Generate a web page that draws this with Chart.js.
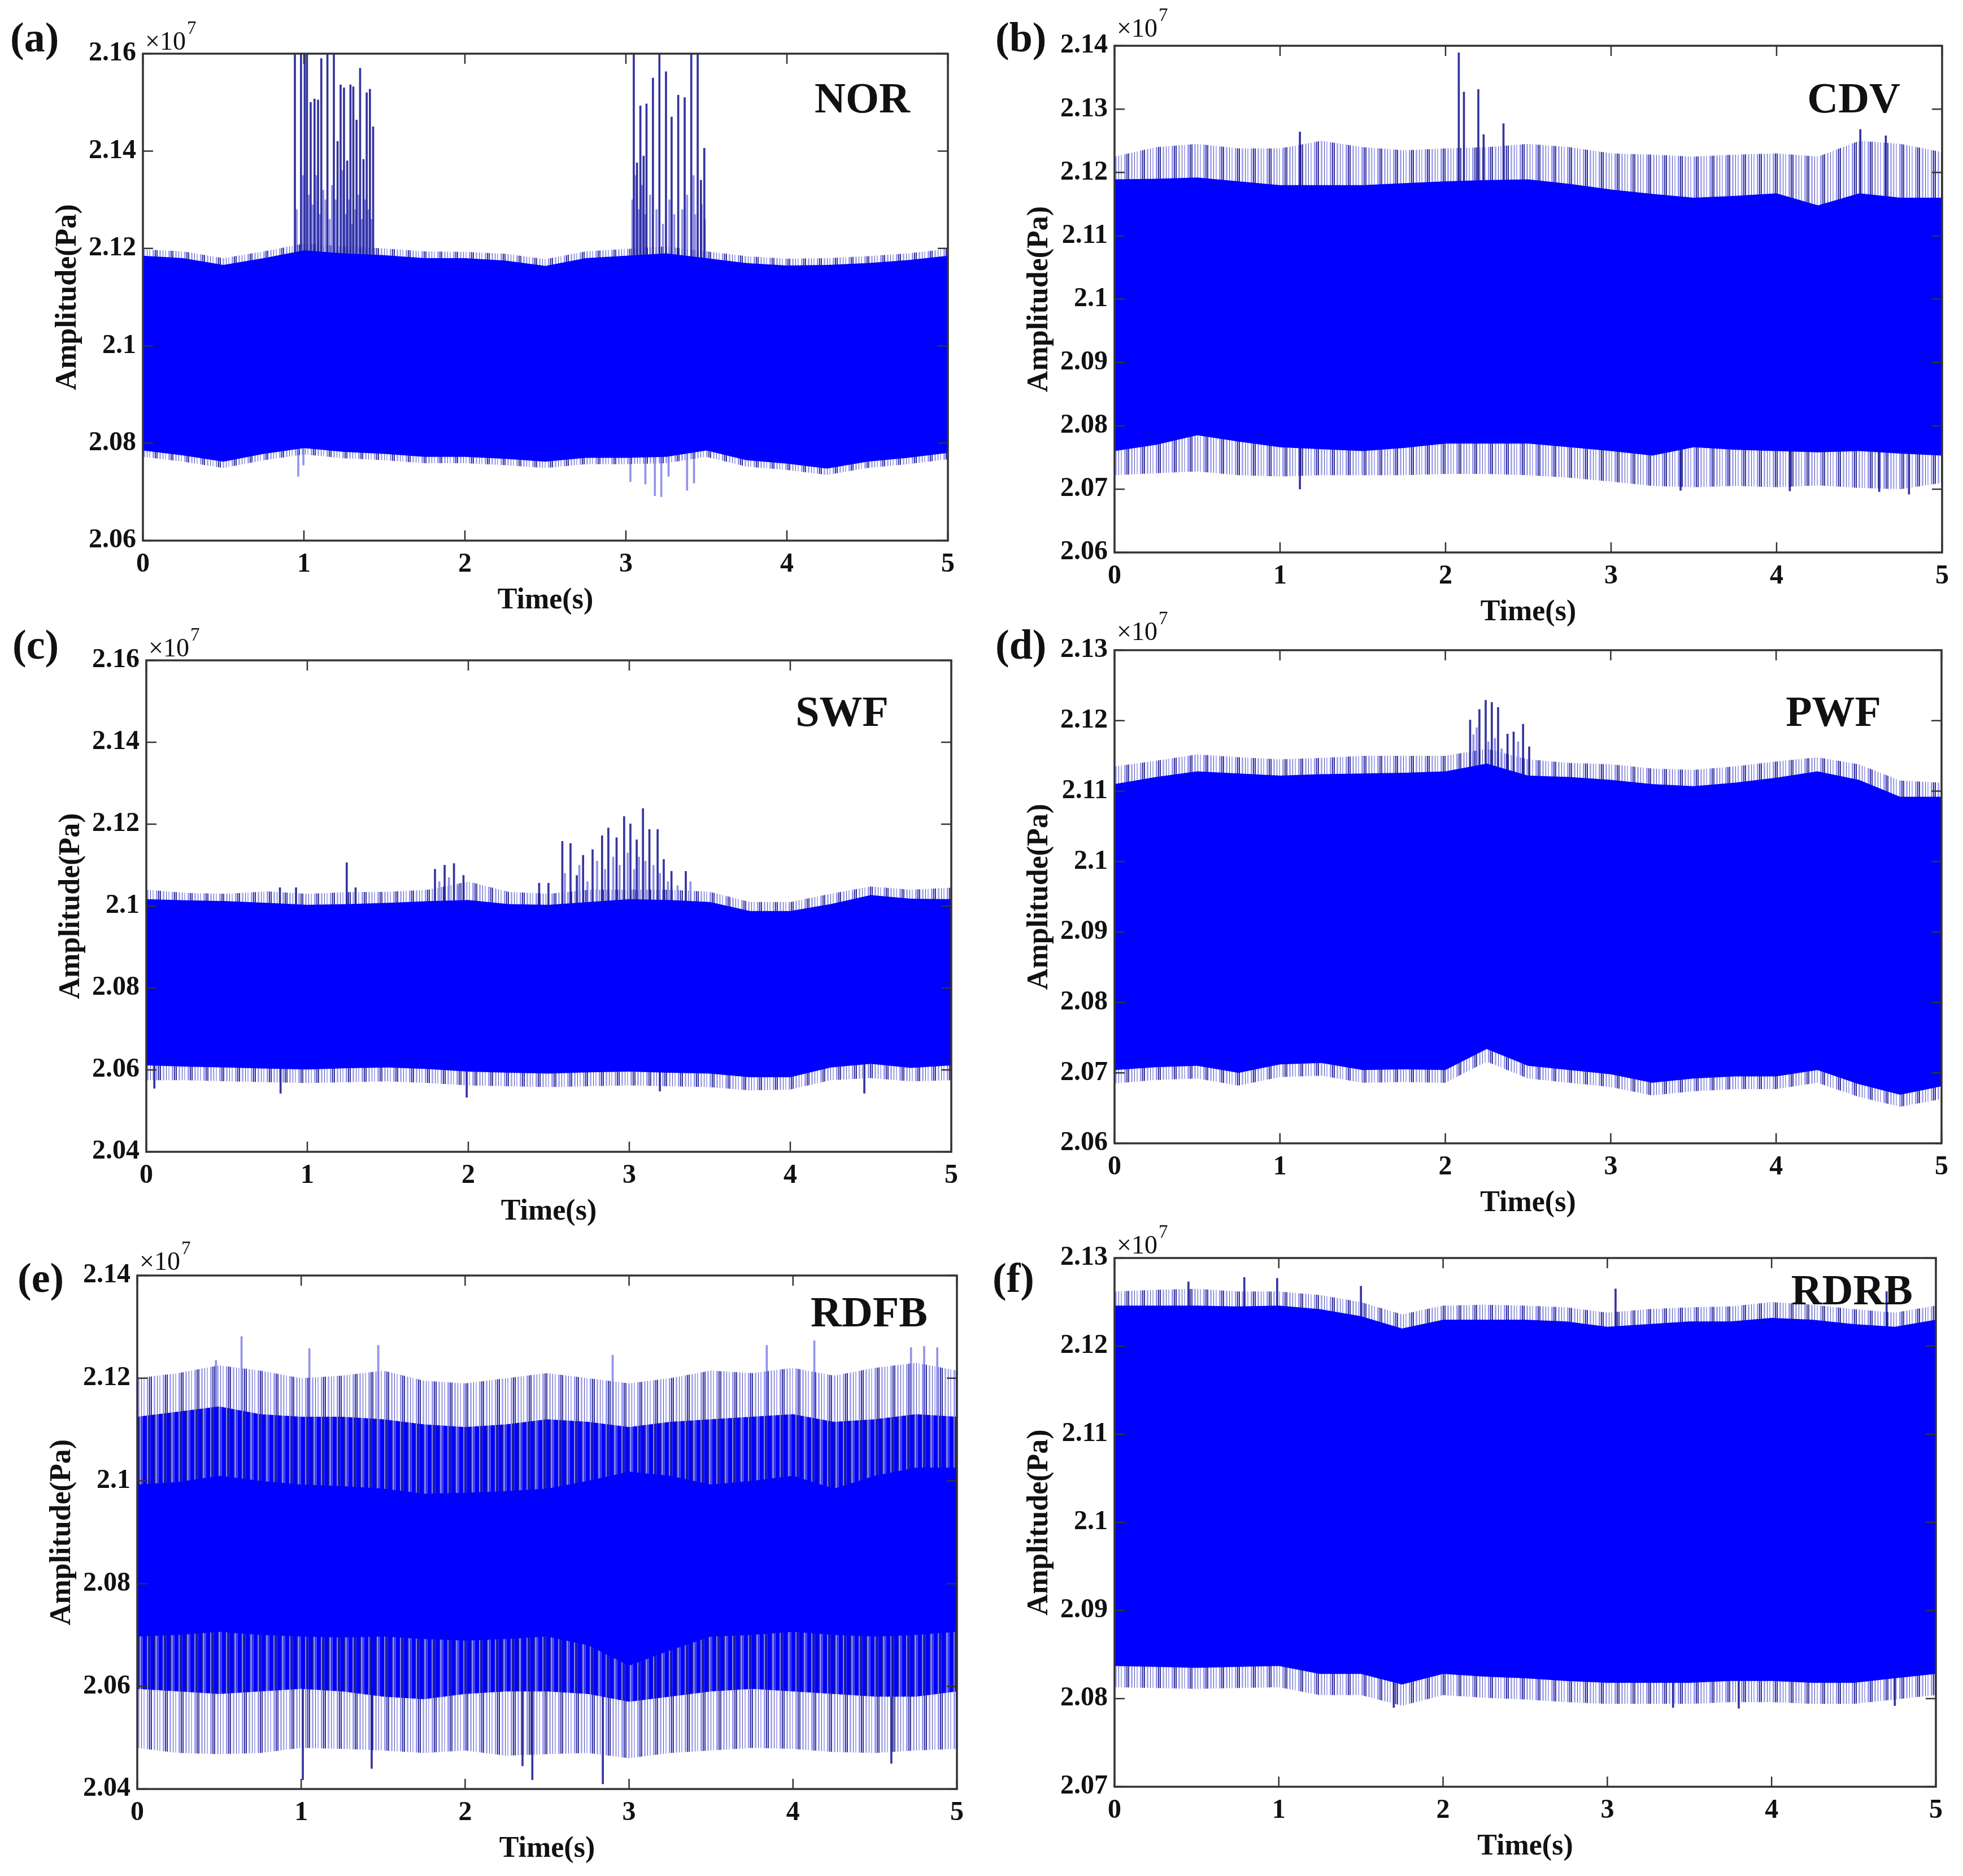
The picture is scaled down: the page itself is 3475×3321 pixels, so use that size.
<!DOCTYPE html>
<html lang="en">

<head>
    <meta charset="UTF-8" />
    <title>Pressure signals</title>
    <script src="https://cdn.jsdelivr.net/npm/chart.js@4.4.1/dist/chart.umd.min.js"></script>
    <style>
        body { margin: 0; background: #fff; }
        #page { position: relative; width: 3475px; height: 3321px; background: #fff;
                font-family: "Liberation Serif", "Times New Roman", serif; color: #111; }
        canvas { position: absolute; }
        .tag { position: absolute; font-weight: bold; font-size: 74px; line-height: 1; transform: translateY(-50%); }
        .name { position: absolute; font-weight: bold; font-size: 76px; line-height: 1; transform: translate(-100%, -50%); }
        .exp { position: absolute; font-size: 46px; line-height: 1; white-space: nowrap; }
        .exp .pow { font-size: 33px; position: relative; top: -28px; margin-left: 2px; }
    </style>
</head>

<body>
    <div id="page"></div>
    <script>
        // sample times for the envelopes (s)
        const tEnv = [0, 0.25, 0.5, 0.75, 1, 1.25, 1.5, 1.75, 2, 2.25, 2.5, 2.75, 3, 3.25, 3.5, 3.75, 4, 4.25, 4.5, 4.75, 5]
        const xTicks = [0, 1, 2, 3, 4, 5]

        // (a) NOR, amplitude x1e7 Pa
        const norTicks = [2.06, 2.08, 2.10, 2.12, 2.14, 2.16]
        const norCoreHi = [2.1185, 2.1180, 2.1166, 2.1180, 2.1196, 2.1190, 2.1186, 2.1180, 2.1180, 2.1175, 2.1164, 2.1180, 2.1185, 2.1190, 2.1180, 2.1170, 2.1165, 2.1166, 2.1170, 2.1176, 2.1185]
        const norEdgeHi = [2.1198, 2.1194, 2.1180, 2.1194, 2.1210, 2.1204, 2.1200, 2.1194, 2.1193, 2.1189, 2.1178, 2.1194, 2.1199, 2.1204, 2.1194, 2.1184, 2.1179, 2.1180, 2.1184, 2.1190, 2.1199]
        const norCoreLo = [2.0785, 2.0775, 2.0762, 2.0778, 2.0790, 2.0782, 2.0778, 2.0772, 2.0772, 2.0768, 2.0762, 2.0770, 2.0770, 2.0772, 2.0785, 2.0765, 2.0758, 2.0748, 2.0762, 2.0770, 2.0780]
        const norEdgeLo = [2.0772, 2.0762, 2.0749, 2.0765, 2.0777, 2.0769, 2.0765, 2.0759, 2.0759, 2.0755, 2.0749, 2.0757, 2.0757, 2.0759, 2.0772, 2.0752, 2.0745, 2.0735, 2.0749, 2.0757, 2.0767]
        const norUpT = [0.944, 0.982, 1.005, 1.019, 1.042, 1.066, 1.088, 1.108, 1.146, 1.186, 1.209, 1.228, 1.249, 1.269, 1.289, 1.307, 1.327, 1.349, 1.370, 1.390, 1.410, 1.430,
            3.049, 3.069, 3.090, 3.110, 3.128, 3.168, 3.208, 3.249, 3.284, 3.325, 3.365, 3.406, 3.446, 3.466, 3.487]
        const norUpPeak = [2.160, 2.160, 2.160, 2.160, 2.150, 2.1507, 2.1505, 2.159, 2.160, 2.160, 2.142, 2.1536, 2.153, 2.138, 2.1536, 2.1532, 2.1464, 2.157, 2.1383, 2.152, 2.1527, 2.145,
            2.160, 2.1376, 2.1493, 2.139, 2.1497, 2.155, 2.160, 2.1563, 2.147, 2.1515, 2.151, 2.160, 2.160, 2.134, 2.1406]
        const norLightT = [0.955, 0.995, 1.030, 1.055, 1.077, 1.098, 1.120, 1.135, 1.160, 1.175, 1.197, 1.240, 1.260, 1.280, 1.300, 1.320, 1.340, 1.360, 1.380, 1.400, 1.420,
            3.040, 3.060, 3.080, 3.100, 3.120, 3.150, 3.190, 3.230, 3.270, 3.300, 3.350, 3.380, 3.420, 3.430, 3.470, 3.490]
        const norLightPeak = [2.128, 2.135, 2.131, 2.129, 2.135, 2.127, 2.132, 2.130, 2.126, 2.133, 2.130, 2.136, 2.127, 2.130, 2.125, 2.128, 2.131, 2.126, 2.130, 2.128, 2.126,
            2.130, 2.135, 2.128, 2.133, 2.127, 2.131, 2.128, 2.125, 2.130, 2.127, 2.128, 2.131, 2.135, 2.127, 2.129, 2.126]
        const norDownT = [0.965, 0.997, 3.028, 3.121, 3.180, 3.220, 3.265, 3.380, 3.423]
        const norDownLow = [2.0732, 2.0755, 2.0721, 2.0716, 2.0692, 2.0690, 2.0732, 2.0703, 2.0718]

        // (b) CDV
        const cdvTicks = [2.06, 2.07, 2.08, 2.09, 2.10, 2.11, 2.12, 2.13, 2.14]
        const cdvCoreHi = [2.1189, 2.1190, 2.1192, 2.1186, 2.1180, 2.1180, 2.1180, 2.1183, 2.1186, 2.1188, 2.1189, 2.1182, 2.1173, 2.1166, 2.1160, 2.1163, 2.1167, 2.1148, 2.1167, 2.1160, 2.1160]
        const cdvEdgeHi = [2.1225, 2.1240, 2.1245, 2.1238, 2.1238, 2.1250, 2.1240, 2.1235, 2.1238, 2.1240, 2.1245, 2.1240, 2.1230, 2.1228, 2.1225, 2.1228, 2.1230, 2.1225, 2.1250, 2.1245, 2.1232]
        const cdvCoreLo = [2.0760, 2.0770, 2.0785, 2.0775, 2.0766, 2.0763, 2.0760, 2.0765, 2.0772, 2.0772, 2.0772, 2.0766, 2.0760, 2.0753, 2.0766, 2.0762, 2.0760, 2.0758, 2.0760, 2.0756, 2.0753]
        const cdvEdgeLo = [2.0722, 2.0725, 2.0728, 2.0722, 2.0720, 2.0722, 2.0722, 2.0722, 2.0724, 2.0724, 2.0722, 2.0718, 2.0712, 2.0705, 2.0703, 2.0705, 2.0703, 2.0706, 2.0702, 2.0700, 2.0710]
        const cdvUpT = [1.12, 2.08, 2.111, 2.198, 2.23, 2.35, 4.506, 4.66]
        const cdvUpPeak = [2.1264, 2.1389, 2.1327, 2.1331, 2.1260, 2.1277, 2.1268, 2.1258]
        const cdvDownT = [1.12, 3.42, 4.08, 4.62, 4.80]
        const cdvDownLow = [2.0700, 2.0698, 2.0697, 2.0696, 2.0692]

        // (c) SWF
        const swfTicks = [2.04, 2.06, 2.08, 2.10, 2.12, 2.14, 2.16]
        const swfCoreHi = [2.1017, 2.1014, 2.1012, 2.1008, 2.1003, 2.1005, 2.1008, 2.1012, 2.1015, 2.1005, 2.1003, 2.1010, 2.1017, 2.1015, 2.1010, 2.0988, 2.0988, 2.1005, 2.1027, 2.1018, 2.1017]
        const swfEdgeHi = [2.1040, 2.1032, 2.1030, 2.1036, 2.1030, 2.1034, 2.1035, 2.1040, 2.1060, 2.1035, 2.1030, 2.1040, 2.1040, 2.1040, 2.1035, 2.1010, 2.1010, 2.1030, 2.1048, 2.1040, 2.1045]
        const swfCoreLo = [2.0611, 2.0608, 2.0606, 2.0603, 2.0601, 2.0604, 2.0606, 2.0602, 2.0596, 2.0593, 2.0591, 2.0594, 2.0596, 2.0593, 2.0591, 2.0582, 2.0582, 2.0606, 2.0615, 2.0605, 2.0611]
        const swfEdgeLo = [2.0575, 2.0575, 2.0572, 2.0570, 2.0568, 2.0570, 2.0572, 2.0568, 2.0562, 2.0560, 2.0558, 2.0560, 2.0562, 2.0560, 2.0558, 2.0550, 2.0552, 2.0575, 2.0580, 2.0572, 2.0575]
        const swfUpT = [0.83, 0.93, 1.245, 1.30, 1.793, 1.853, 1.911, 1.97, 2.44, 2.498, 2.584, 2.635, 2.674, 2.713, 2.772, 2.831, 2.870, 2.921, 2.968, 3.007, 3.046, 3.085, 3.125, 3.176, 3.214, 3.262, 3.351]
        const swfUpPeak = [2.1045, 2.1045, 2.1106, 2.1045, 2.1090, 2.1100, 2.1104, 2.1075, 2.1056, 2.1056, 2.1158, 2.1153, 2.1075, 2.1124, 2.1138, 2.1172, 2.1191, 2.1167, 2.1219, 2.1201, 2.1162, 2.1238, 2.1187, 2.1187, 2.1114, 2.1085, 2.1085]
        const swfLightT = [1.82, 1.88, 1.94, 2.60, 2.69, 2.74, 2.80, 2.85, 2.90, 2.94, 2.99, 3.03, 3.06, 3.10, 3.15, 3.19, 3.24, 3.30, 3.38]
        const swfLightPeak = [2.106, 2.107, 2.105, 2.108, 2.110, 2.106, 2.111, 2.109, 2.112, 2.110, 2.113, 2.109, 2.112, 2.111, 2.110, 2.108, 2.106, 2.105, 2.106]
        const swfDownT = [0.05, 0.834, 1.99, 3.19, 4.46]
        const swfDownLow = [2.0555, 2.0543, 2.0533, 2.0548, 2.0543]

        // (d) PWF
        const pwfTicks = [2.06, 2.07, 2.08, 2.09, 2.10, 2.11, 2.12, 2.13]
        const pwfCoreHi = [2.1110, 2.1120, 2.1128, 2.1125, 2.1122, 2.1124, 2.1125, 2.1126, 2.1128, 2.1139, 2.1122, 2.1120, 2.1116, 2.1110, 2.1107, 2.1112, 2.1119, 2.1128, 2.1116, 2.1092, 2.1092]
        const pwfEdgeHi = [2.1135, 2.1143, 2.1152, 2.1148, 2.1145, 2.1147, 2.1150, 2.1150, 2.1150, 2.1160, 2.1145, 2.1140, 2.1138, 2.1132, 2.1130, 2.1135, 2.1142, 2.1148, 2.1138, 2.1115, 2.1112]
        const pwfCoreLo = [2.0704, 2.0708, 2.0710, 2.0700, 2.0712, 2.0714, 2.0704, 2.0705, 2.0704, 2.0734, 2.0710, 2.0704, 2.0698, 2.0686, 2.0692, 2.0695, 2.0695, 2.0704, 2.0684, 2.0669, 2.0681]
        const pwfEdgeLo = [2.0685, 2.0690, 2.0692, 2.0682, 2.0694, 2.0696, 2.0686, 2.0687, 2.0686, 2.0716, 2.0692, 2.0686, 2.0680, 2.0668, 2.0674, 2.0677, 2.0677, 2.0686, 2.0666, 2.0652, 2.0663]
        const pwfUpT = [2.150, 2.206, 2.244, 2.281, 2.319, 2.376, 2.413, 2.470, 2.507]
        const pwfUpPeak = [2.1201, 2.1216, 2.1229, 2.1226, 2.1219, 2.1181, 2.1184, 2.1195, 2.1163]
        const pwfLightT = [2.17, 2.19, 2.26, 2.30, 2.34, 2.44]
        const pwfLightPeak = [2.118, 2.119, 2.117, 2.1175, 2.116, 2.117]

        // (e) RDFB
        const rdfbTicks = [2.04, 2.06, 2.08, 2.10, 2.12, 2.14]
        const rdfbCoreHi = [2.0993, 2.0998, 2.1010, 2.1000, 2.0993, 2.0990, 2.0985, 2.0975, 2.0977, 2.0980, 2.0985, 2.1000, 2.1018, 2.1010, 2.0993, 2.1000, 2.1010, 2.0985, 2.1010, 2.1026, 2.1026]
        const rdfbMidHi = [2.1125, 2.1135, 2.1145, 2.1130, 2.1125, 2.1125, 2.1120, 2.1110, 2.1105, 2.1110, 2.1120, 2.1115, 2.1105, 2.1115, 2.1120, 2.1125, 2.1130, 2.1115, 2.1120, 2.1130, 2.1125]
        const rdfbEdgeHi = [2.1200, 2.1210, 2.1225, 2.1215, 2.1200, 2.1205, 2.1215, 2.1195, 2.1190, 2.1200, 2.1210, 2.1200, 2.1190, 2.1200, 2.1215, 2.1210, 2.1220, 2.1205, 2.1220, 2.1230, 2.1215]
        const rdfbCoreLo = [2.0697, 2.0700, 2.0706, 2.0700, 2.0697, 2.0695, 2.0697, 2.0692, 2.0689, 2.0692, 2.0697, 2.0680, 2.0640, 2.0670, 2.0697, 2.0700, 2.0706, 2.0700, 2.0697, 2.0700, 2.0706]
        const rdfbMidLo = [2.0595, 2.0590, 2.0585, 2.0590, 2.0595, 2.0590, 2.0580, 2.0575, 2.0585, 2.0590, 2.0590, 2.0585, 2.0570, 2.0580, 2.0590, 2.0595, 2.0590, 2.0585, 2.0580, 2.0580, 2.0590]
        const rdfbEdgeLo = [2.0480, 2.0470, 2.0468, 2.0470, 2.0480, 2.0478, 2.0475, 2.0470, 2.0475, 2.0465, 2.0468, 2.0470, 2.0460, 2.0470, 2.0475, 2.0480, 2.0478, 2.0472, 2.0470, 2.0475, 2.0478]
        const rdfbUpT = [0.48, 0.636, 1.05, 1.47, 2.90, 3.84, 4.13, 4.72, 4.80, 4.88]
        const rdfbUpPeak = [2.1235, 2.1281, 2.1258, 2.1264, 2.1245, 2.1264, 2.1273, 2.1260, 2.1262, 2.1260]
        const rdfbDownT = [1.01, 1.43, 2.35, 2.41, 2.84, 4.60]
        const rdfbDownLow = [2.0418, 2.0440, 2.0445, 2.0418, 2.0410, 2.0450]

        // (f) RDRB
        const rdrbTicks = [2.07, 2.08, 2.09, 2.10, 2.11, 2.12, 2.13]
        const rdrbCoreHi = [2.1246, 2.1246, 2.1246, 2.1245, 2.1246, 2.1242, 2.1234, 2.1220, 2.1230, 2.1230, 2.1230, 2.1228, 2.1222, 2.1225, 2.1228, 2.1228, 2.1232, 2.1230, 2.1225, 2.1222, 2.1230]
        const rdrbEdgeHi = [2.1262, 2.1264, 2.1265, 2.1262, 2.1262, 2.1258, 2.1250, 2.1236, 2.1246, 2.1247, 2.1246, 2.1244, 2.1238, 2.1242, 2.1244, 2.1245, 2.1250, 2.1247, 2.1242, 2.1238, 2.1246]
        const rdrbCoreLo = [2.0837, 2.0836, 2.0835, 2.0836, 2.0837, 2.0828, 2.0828, 2.0816, 2.0828, 2.0825, 2.0823, 2.0820, 2.0818, 2.0818, 2.0818, 2.0820, 2.0820, 2.0818, 2.0818, 2.0823, 2.0828]
        const rdrbEdgeLo = [2.0813, 2.0812, 2.0811, 2.0812, 2.0813, 2.0804, 2.0804, 2.0792, 2.0804, 2.0801, 2.0799, 2.0796, 2.0794, 2.0794, 2.0794, 2.0796, 2.0796, 2.0794, 2.0794, 2.0799, 2.0804]
        const rdrbUpT = [0.45, 0.79, 0.99, 1.50, 3.05, 4.70]
        const rdrbUpPeak = [2.1273, 2.1278, 2.1277, 2.1268, 2.1265, 2.1262]
        const rdrbDownT = [1.70, 3.40, 3.80, 4.75]
        const rdrbDownLow = [2.0790, 2.0790, 2.0789, 2.0792]

        const AX_W = 200, AX_H = 170, PAD = 60
        const tickFont = { family: 'Liberation Serif', size: 48, weight: 'bold' }
        const titleFont = { family: 'Liberation Serif', size: 52, weight: 'bold', lineHeight: 1 }
        const CORE = '#0000ff'
        const DARK = 'rgba(30,30,150,0.9)'
        const LIGHT = 'rgba(110,110,230,0.75)'

        // vertical stripe fill, looks like the dense pulse spikes
        function stripes(cols) {
            const c = document.createElement('canvas')
            c.width = 28; c.height = 8
            const g = c.getContext('2d')
            cols.forEach(([x, w, col]) => { g.fillStyle = col; g.fillRect(x, 0, w, 8) })
            return g.createPattern(c, 'repeat')
        }
        const edgeFill = stripes([[0, 2, 'rgba(25,25,140,0.9)'], [5, 3, 'rgba(140,140,240,0.75)'], [11, 1, 'rgba(25,25,140,0.8)'],
            [15, 2, 'rgba(140,140,240,0.7)'], [21, 3, 'rgba(120,120,240,0.75)'], [25, 2, 'rgba(25,25,140,0.9)']])
        const midFill = stripes([[0, 6, '#0000ff'], [6, 2, 'rgba(25,25,140,0.95)'], [8, 3, 'rgba(120,120,240,0.9)'], [11, 3, 'rgba(0,0,255,0.7)'],
            [14, 7, '#0000ff'], [21, 2, 'rgba(130,130,240,0.9)'], [23, 3, 'rgba(25,25,140,0.95)'], [26, 2, 'rgba(0,0,255,0.8)']])

        function pts(vals) { return tEnv.map((t, i) => ({ x: t, y: vals[i] })) }

        function band(lo, hi, fill, order) {
            return [
                { data: pts(lo), borderColor: 'rgba(0,0,0,0)', borderWidth: 1, pointRadius: 0, fill: false, order },
                { data: pts(hi), borderColor: 'rgba(0,0,0,0)', borderWidth: 1, pointRadius: 0, fill: '-1', backgroundColor: fill, order }
            ]
        }

        function spikes(ts, vals, base, color, up) {
            return {
                type: 'bar', order: 2, grouped: false, barThickness: 3, borderWidth: 0, backgroundColor: color,
                data: ts.map((t, i) => ({ x: t, y: up ? [base, vals[i]] : [vals[i], base] }))
            }
        }

        const frame = {
            id: 'frame',
            afterDraw(chart) {
                const { ctx, chartArea: a, scales: { x, y } } = chart
                ctx.save()
                ctx.strokeStyle = '#333'
                ctx.lineWidth = 2.5
                ctx.beginPath()
                x.ticks.forEach(t => {
                    const px = x.getPixelForValue(t.value)
                    ctx.moveTo(px, a.bottom); ctx.lineTo(px, a.bottom - 18)
                    ctx.moveTo(px, a.top); ctx.lineTo(px, a.top + 18)
                })
                y.ticks.forEach(t => {
                    const py = y.getPixelForValue(t.value)
                    ctx.moveTo(a.left, py); ctx.lineTo(a.left + 18, py)
                    ctx.moveTo(a.right, py); ctx.lineTo(a.right - 18, py)
                })
                ctx.stroke()
                ctx.lineWidth = 3.5
                ctx.strokeRect(a.left, a.top, a.width, a.height)
                ctx.restore()
            }
        }

        const page = document.getElementById('page')

        function panel(p) {
            const [L, T, W, H] = p.box
            const cv = document.createElement('canvas')
            cv.width = W + AX_W + PAD
            cv.height = H + PAD + AX_H
            cv.style.left = (L - AX_W) + 'px'
            cv.style.top = (T - PAD) + 'px'
            page.appendChild(cv)

            const tag = document.createElement('div')
            tag.className = 'tag'
            tag.textContent = p.tag
            tag.style.left = p.tagAt[0] + 'px'
            tag.style.top = p.tagAt[1] + 'px'
            page.appendChild(tag)

            const name = document.createElement('div')
            name.className = 'name'
            name.textContent = p.name
            name.style.left = p.nameAt[0] + 'px'
            name.style.top = p.nameAt[1] + 'px'
            page.appendChild(name)

            const exp = document.createElement('div')
            exp.className = 'exp'
            exp.innerHTML = '×10<span class="pow">7</span>'
            exp.style.left = (L + 4) + 'px'
            exp.style.top = (T - p.expUp - 39) + 'px'
            page.appendChild(exp)

            const yt = p.ticks
            new Chart(cv, {
                type: 'line',
                data: { datasets: p.datasets },
                options: {
                    responsive: false,
                    animation: false,
                    devicePixelRatio: 1,
                    layout: { padding: { top: PAD, right: PAD, left: 0, bottom: 0 } },
                    plugins: { legend: { display: false }, tooltip: { enabled: false } },
                    elements: { point: { radius: 0 }, line: { tension: 0 } },
                    scales: {
                        x: {
                            type: 'linear', min: 0, max: 5, offset: false,
                            grid: { display: false, drawTicks: false }, border: { display: false },
                            afterBuildTicks: s => { s.ticks = xTicks.map(v => ({ value: v })) },
                            afterFit: s => { s.height = AX_H },
                            ticks: { font: tickFont, color: '#111', padding: 14, maxRotation: 0, autoSkip: false },
                            title: { display: true, text: 'Time(s)', font: titleFont, color: '#111', padding: { top: 0, bottom: 37 } }
                        },
                        y: {
                            type: 'linear', min: yt[0], max: yt[yt.length - 1],
                            grid: { display: false, drawTicks: false }, border: { display: false },
                            afterBuildTicks: s => { s.ticks = yt.map(v => ({ value: v })) },
                            afterFit: s => { s.width = AX_W },
                            ticks: { font: tickFont, color: '#111', padding: 12, autoSkip: false, callback: v => String(Math.round(v * 100) / 100) },
                            title: { display: true, text: 'Amplitude(Pa)', font: titleFont, color: '#111', padding: { top: 42, bottom: 0 } }
                        }
                    }
                },
                plugins: [frame]
            })
        }

        panel({
            box: [253, 95, 1425, 862], ticks: norTicks, tag: '(a)', tagAt: [18, 66], name: 'NOR', nameAt: [1611, 173], expUp: 6,
            datasets: [
                ...band(norCoreLo, norCoreHi, CORE, 1),
                spikes(norUpT, norUpPeak, 2.10, DARK, true),
                spikes(norLightT, norLightPeak, 2.10, LIGHT, true),
                spikes(norDownT, norDownLow, 2.09, LIGHT, false),
                ...band(norEdgeLo, norEdgeHi, edgeFill, 3)
            ]
        })
        panel({
            box: [1973, 81, 1465, 897], ticks: cdvTicks, tag: '(b)', tagAt: [1762, 66], name: 'CDV', nameAt: [3364, 173], expUp: 15,
            datasets: [
                ...band(cdvCoreLo, cdvCoreHi, CORE, 1),
                spikes(cdvUpT, cdvUpPeak, 2.10, DARK, true),
                spikes(cdvDownT, cdvDownLow, 2.09, DARK, false),
                ...band(cdvEdgeLo, cdvEdgeHi, edgeFill, 3)
            ]
        })
        panel({
            box: [259, 1169, 1425, 870], ticks: swfTicks, tag: '(c)', tagAt: [22, 1141], name: 'SWF', nameAt: [1573, 1259], expUp: 6,
            datasets: [
                ...band(swfCoreLo, swfCoreHi, CORE, 1),
                spikes(swfUpT, swfUpPeak, 2.08, DARK, true),
                spikes(swfLightT, swfLightPeak, 2.08, LIGHT, true),
                spikes(swfDownT, swfDownLow, 2.08, DARK, false),
                ...band(swfEdgeLo, swfEdgeHi, edgeFill, 3)
            ]
        })
        panel({
            box: [1973, 1151, 1464, 873], ticks: pwfTicks, tag: '(d)', tagAt: [1762, 1141], name: 'PWF', nameAt: [3330, 1259], expUp: 17,
            datasets: [
                ...band(pwfCoreLo, pwfCoreHi, CORE, 1),
                spikes(pwfUpT, pwfUpPeak, 2.10, DARK, true),
                spikes(pwfLightT, pwfLightPeak, 2.10, LIGHT, true),
                ...band(pwfEdgeLo, pwfEdgeHi, edgeFill, 3)
            ]
        })
        panel({
            box: [243, 2258, 1451, 909], ticks: rdfbTicks, tag: '(e)', tagAt: [31, 2262], name: 'RDFB', nameAt: [1642, 2322], expUp: 9,
            datasets: [
                ...band(rdfbCoreLo, rdfbCoreHi, CORE, 1),
                ...band(rdfbMidLo, rdfbMidHi, midFill, 2),
                spikes(rdfbUpT, rdfbUpPeak, 2.09, LIGHT, true),
                spikes(rdfbDownT, rdfbDownLow, 2.08, DARK, false),
                ...band(rdfbEdgeLo, rdfbEdgeHi, edgeFill, 3)
            ]
        })
        panel({
            box: [1973, 2227, 1454, 936], ticks: rdrbTicks, tag: '(f)', tagAt: [1757, 2262], name: 'RDRB', nameAt: [3386, 2283], expUp: 7,
            datasets: [
                ...band(rdrbCoreLo, rdrbCoreHi, CORE, 1),
                spikes(rdrbUpT, rdrbUpPeak, 2.10, DARK, true),
                spikes(rdrbDownT, rdrbDownLow, 2.10, DARK, false),
                ...band(rdrbEdgeLo, rdrbEdgeHi, edgeFill, 3)
            ]
        })
    </script>
</body>

</html>
